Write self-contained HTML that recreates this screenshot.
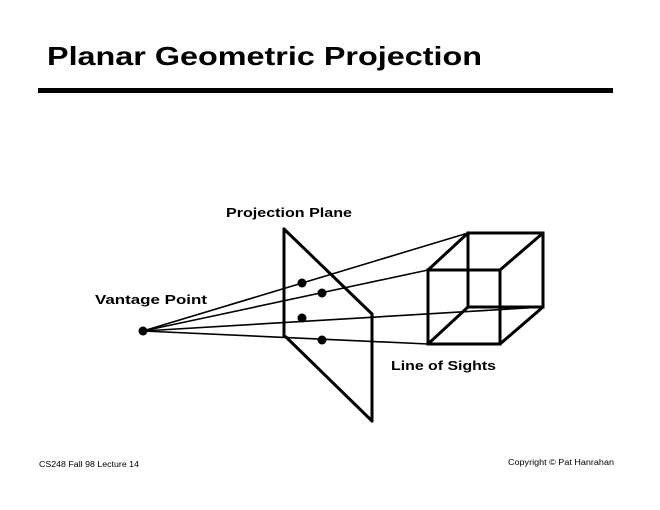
<!DOCTYPE html>
<html><head><meta charset="utf-8"><style>
html,body{margin:0;padding:0;background:#fff;}
svg{display:block;}
text{font-family:"Liberation Sans",sans-serif;fill:#000;}
</style></head><body>
<svg width="660" height="510" viewBox="0 0 660 510" xmlns="http://www.w3.org/2000/svg">
<text x="47" y="65" font-size="26" font-weight="bold" textLength="435" lengthAdjust="spacingAndGlyphs">Planar Geometric Projection</text>
<rect x="38" y="88" width="575" height="5" fill="#000"/>
<text x="226" y="217" font-size="13" font-weight="bold" textLength="126" lengthAdjust="spacingAndGlyphs">Projection Plane</text>
<text x="95" y="304" font-size="13" font-weight="bold" textLength="112" lengthAdjust="spacingAndGlyphs">Vantage Point</text>
<text x="391" y="370" font-size="13" font-weight="bold" textLength="105" lengthAdjust="spacingAndGlyphs">Line of Sights</text>
<text x="39" y="467" font-size="8" textLength="100" lengthAdjust="spacingAndGlyphs">CS248 Fall 98 Lecture 14</text>
<text x="508" y="465" font-size="8" textLength="106" lengthAdjust="spacingAndGlyphs">Copyright © Pat Hanrahan</text>
<g stroke="#000" fill="none" stroke-linecap="round">
<!-- plane -->
<g stroke-width="3">
<line x1="284" y1="229" x2="284" y2="336"/>
<line x1="284" y1="229" x2="372" y2="314"/>
<line x1="372" y1="314" x2="372" y2="421"/>
<line x1="286" y1="337" x2="372" y2="421"/>
</g>
<!-- lines of sight -->
<g stroke-width="1.6">
<line x1="143" y1="331" x2="468" y2="233"/>
<line x1="143" y1="331" x2="428" y2="270"/>
<line x1="143" y1="331" x2="543" y2="307"/>
<line x1="143" y1="331" x2="428" y2="344"/>
</g>
<!-- cube -->
<g stroke-width="3">
<rect x="468" y="233" width="75" height="74"/>
<rect x="428" y="270" width="72" height="74"/>
<line x1="428" y1="270" x2="468" y2="233"/>
<line x1="500" y1="270" x2="543" y2="233"/>
<line x1="428" y1="344" x2="468" y2="307"/>
<line x1="500" y1="344" x2="543" y2="307"/>
</g>
</g>
<g fill="#000">
<circle cx="143" cy="331" r="4.5"/>
<circle cx="302" cy="283" r="4.5"/>
<circle cx="322" cy="293" r="4.5"/>
<circle cx="302" cy="318" r="4.5"/>
<circle cx="322" cy="340" r="4.5"/>
</g>
</svg>
</body></html>
